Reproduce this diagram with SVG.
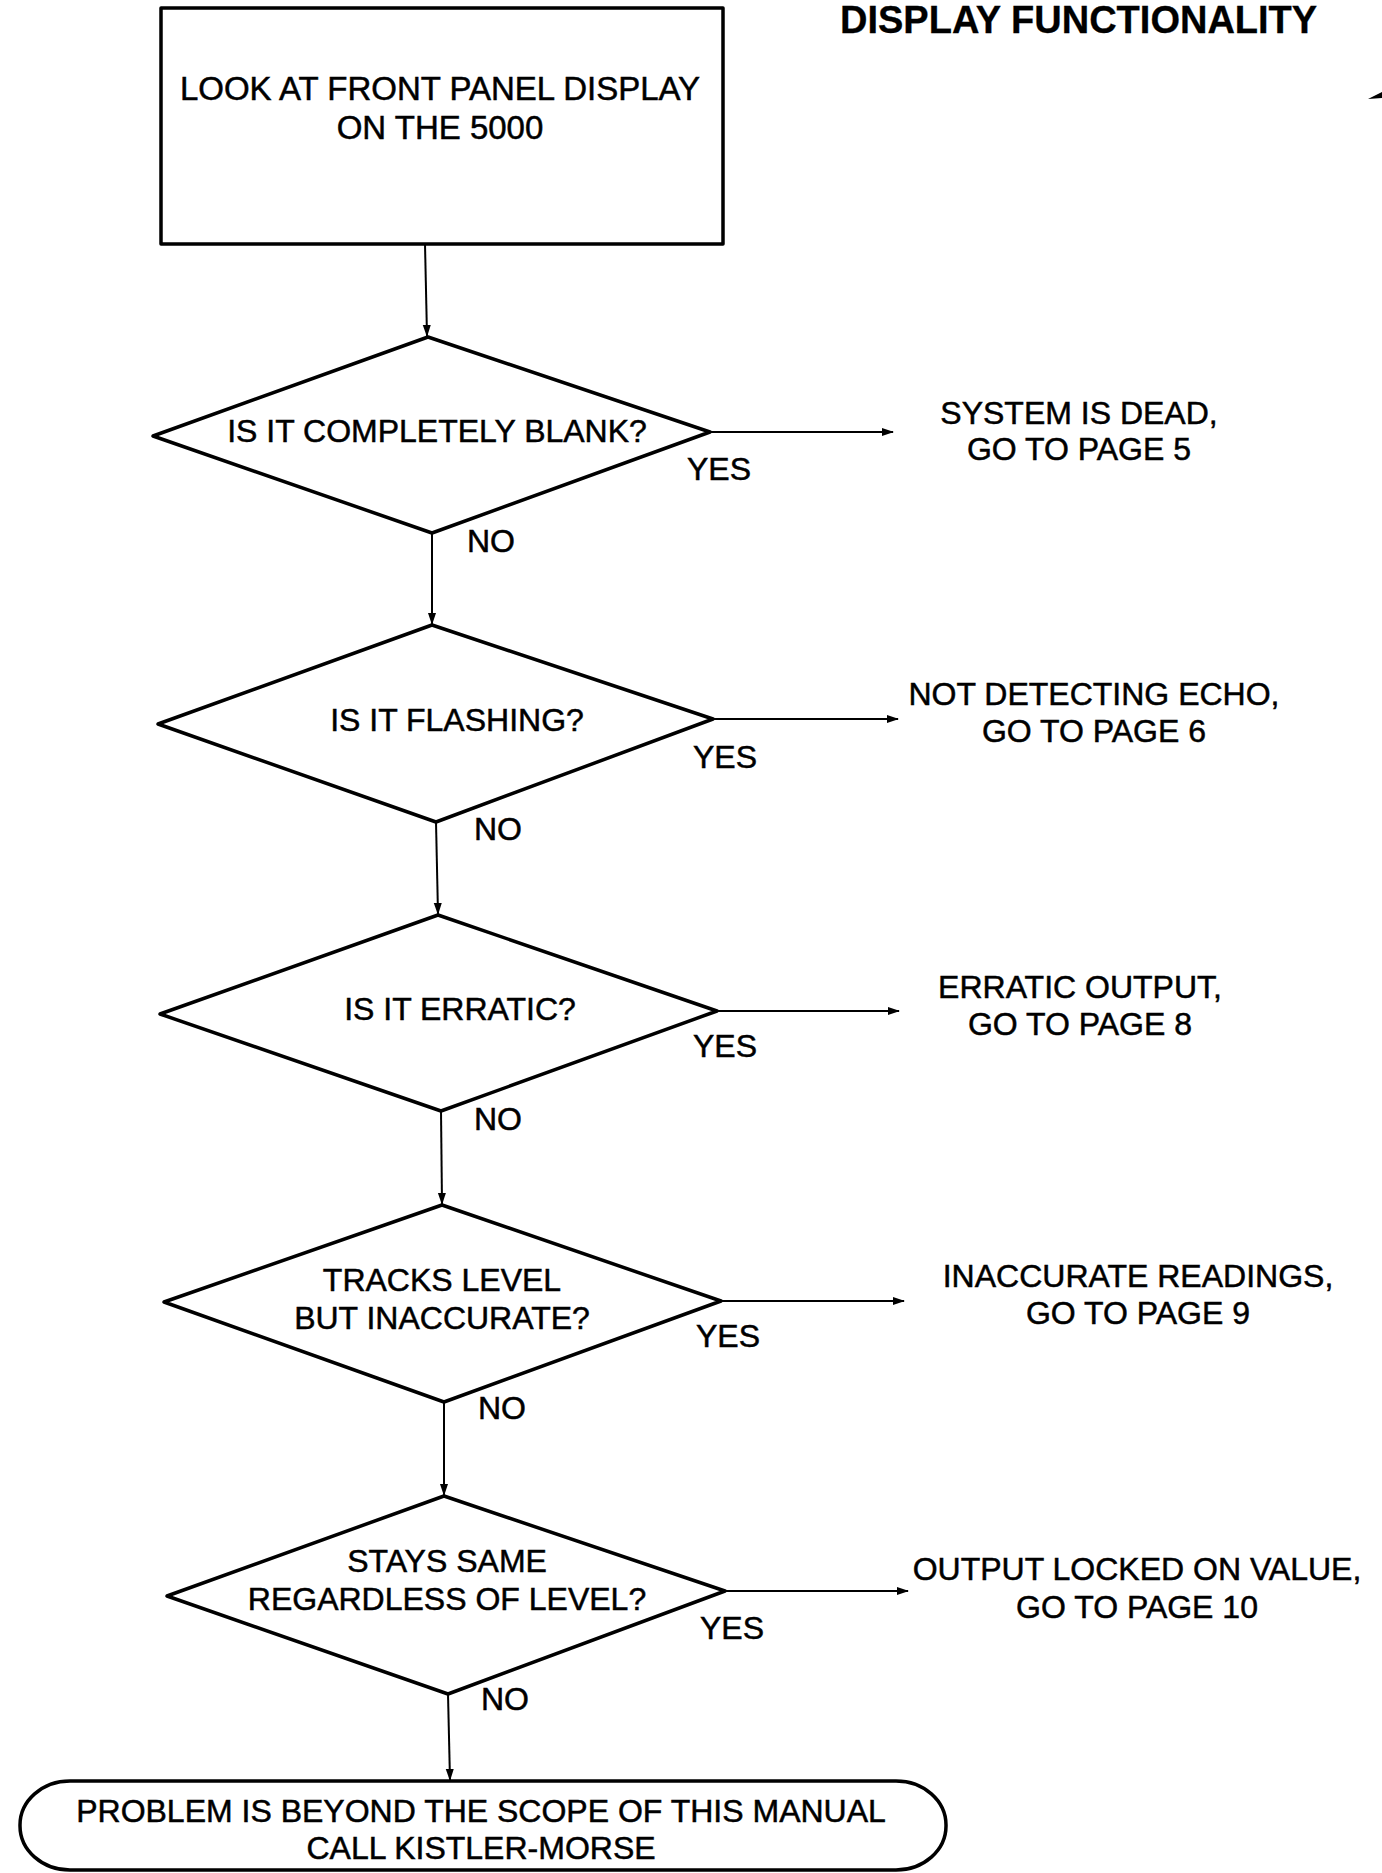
<svg xmlns="http://www.w3.org/2000/svg" width="1382" height="1873" viewBox="0 0 1382 1873">
<style>
text{font-family:"Liberation Sans",Arial,sans-serif;font-size:32px;fill:#000;stroke:#000;stroke-width:0.5}
.t{text-anchor:middle}
.big{font-size:33px}
.title{font-size:38px;font-weight:bold;stroke-width:0.3}
.shape{fill:none;stroke:#000;stroke-width:3.5;stroke-linejoin:round}
.c{fill:none;stroke:#000;stroke-width:2}
</style>
<defs>
<marker id="ah" markerWidth="12" markerHeight="10" refX="11" refY="5" orient="auto" markerUnits="userSpaceOnUse">
<path d="M0,1 L12,5 L0,9 Z" fill="#000"/>
</marker>
</defs>
<rect width="1382" height="1873" fill="#fff"/>
<text class="title" x="840" y="33">DISPLAY FUNCTIONALITY</text>
<path d="M1368,99 L1382,92 L1382,98 Z" fill="#000"/>

<g id="start">
<rect class="shape" x="161" y="8" width="562" height="236" stroke-width="2.5"/>
<text class="t big" x="440" y="100">LOOK AT FRONT PANEL DISPLAY</text>
<text class="t big" x="440" y="139">ON THE 5000</text>
</g>

<g id="q1">
<polygon class="shape" points="428,337 710,432 432,533 153,436"/>
<text class="t" x="437" y="442">IS IT COMPLETELY BLANK?</text>
</g>
<g id="r1">
<text class="t" x="1079" y="424">SYSTEM IS DEAD,</text>
<text class="t" x="1079" y="460">GO TO PAGE 5</text>
</g>

<g id="q2">
<polygon class="shape" points="432,625 713,719 436,822 158,724"/>
<text class="t" x="457" y="731">IS IT FLASHING?</text>
</g>
<g id="r2">
<text class="t" x="1094" y="705">NOT DETECTING ECHO,</text>
<text class="t" x="1094" y="742">GO TO PAGE 6</text>
</g>

<g id="q3">
<polygon class="shape" points="438,915 717,1011 441,1111 160,1014"/>
<text class="t" x="460" y="1020">IS IT ERRATIC?</text>
</g>
<g id="r3">
<text class="t" x="1080" y="998">ERRATIC OUTPUT,</text>
<text class="t" x="1080" y="1035">GO TO PAGE 8</text>
</g>

<g id="q4">
<polygon class="shape" points="442,1205 721,1301 444,1402 164,1302"/>
<text class="t" x="442" y="1291">TRACKS LEVEL</text>
<text class="t" x="442" y="1329">BUT INACCURATE?</text>
</g>
<g id="r4">
<text class="t" x="1138" y="1287">INACCURATE READINGS,</text>
<text class="t" x="1138" y="1324">GO TO PAGE 9</text>
</g>

<g id="q5">
<polygon class="shape" points="444,1496 725,1591 448,1694 167,1596"/>
<text class="t" x="447" y="1572">STAYS SAME</text>
<text class="t" x="447" y="1610">REGARDLESS OF LEVEL?</text>
</g>
<g id="r5">
<text class="t" x="1137" y="1580">OUTPUT LOCKED ON VALUE,</text>
<text class="t" x="1137" y="1618">GO TO PAGE 10</text>
</g>

<g id="end">
<rect class="shape" x="20" y="1781" width="926" height="89" rx="50" ry="44" stroke-width="2.5"/>
<text class="t" x="481" y="1822">PROBLEM IS BEYOND THE SCOPE OF THIS MANUAL</text>
<text class="t" x="481" y="1859">CALL KISTLER-MORSE</text>
</g>

<g id="connectors">
<line class="c" x1="425" y1="244" x2="427" y2="336" marker-end="url(#ah)"/>
<line class="c" x1="710" y1="432" x2="893" y2="432" marker-end="url(#ah)"/>
<line class="c" x1="432" y1="533" x2="432" y2="624" marker-end="url(#ah)"/>
<line class="c" x1="713" y1="719" x2="898" y2="719" marker-end="url(#ah)"/>
<line class="c" x1="436" y1="822" x2="438" y2="914" marker-end="url(#ah)"/>
<line class="c" x1="717" y1="1011" x2="899" y2="1011" marker-end="url(#ah)"/>
<line class="c" x1="441" y1="1111" x2="442" y2="1204" marker-end="url(#ah)"/>
<line class="c" x1="721" y1="1301" x2="904" y2="1301" marker-end="url(#ah)"/>
<line class="c" x1="444" y1="1402" x2="444" y2="1495" marker-end="url(#ah)"/>
<line class="c" x1="725" y1="1591" x2="908" y2="1591" marker-end="url(#ah)"/>
<line class="c" x1="448" y1="1694" x2="450" y2="1780" marker-end="url(#ah)"/>
<text x="687" y="480">YES</text>
<text x="467" y="552">NO</text>
<text x="693" y="768">YES</text>
<text x="474" y="840">NO</text>
<text x="693" y="1057">YES</text>
<text x="474" y="1130">NO</text>
<text x="696" y="1347">YES</text>
<text x="478" y="1419">NO</text>
<text x="700" y="1639">YES</text>
<text x="481" y="1710">NO</text>
</g>
</svg>
